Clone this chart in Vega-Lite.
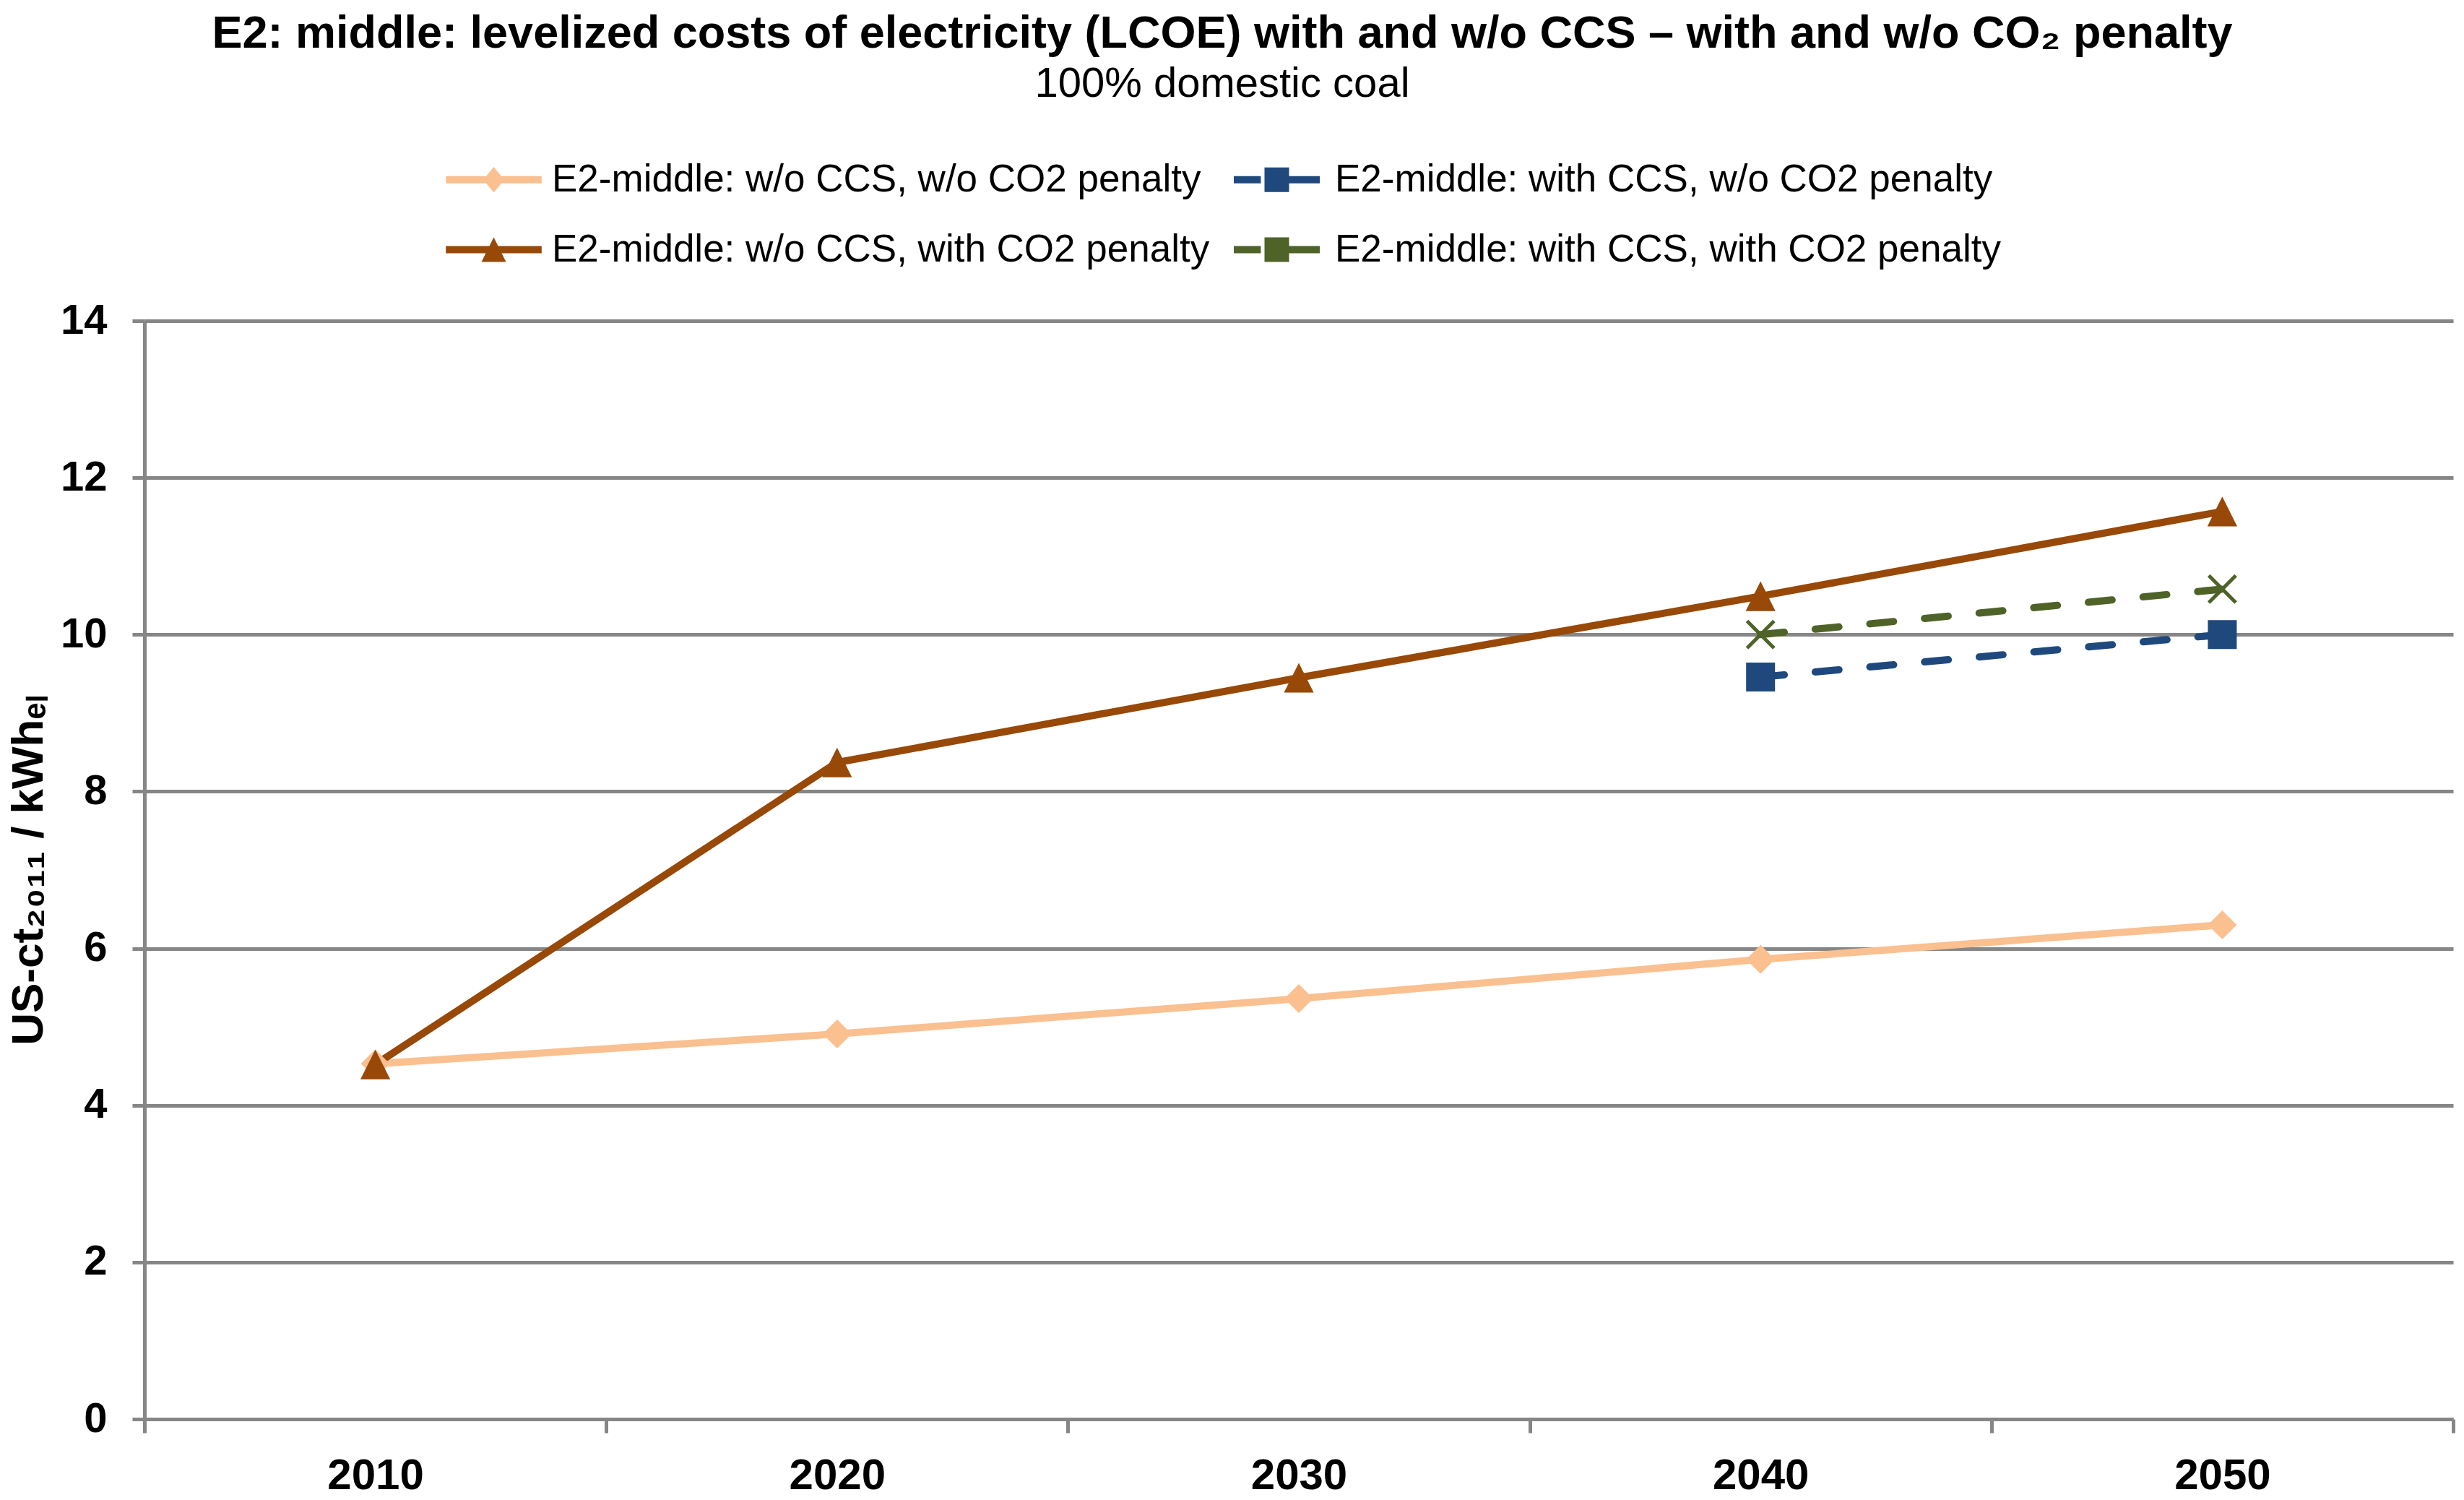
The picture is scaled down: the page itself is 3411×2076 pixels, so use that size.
{
  "$schema": "https://vega.github.io/schema/vega-lite/v6.json",
  "width": 3196,
  "height": 1520,
  "autosize": {"type": "none"},
  "padding": {"left": 200, "top": 444, "right": 15, "bottom": 112},
  "background": "white",
  "config": {"font": "Liberation Sans", "view": {"stroke": null}},
  "title": {
    "text": "E2: middle: levelized costs of electricity (LCOE) with and w/o CCS – with and w/o CO₂ penalty",
    "subtitle": "100% domestic coal",
    "anchor": "middle",
    "frame": "group",
    "dx": -106,
    "font": "Liberation Sans",
    "fontSize": 63,
    "fontWeight": "bold",
    "color": "black",
    "subtitleFont": "Liberation Sans",
    "subtitleFontSize": 58,
    "subtitleColor": "black",
    "subtitlePadding": 9,
    "offset": 76
  },
  "data": {
    "values": [
      {"year": "2010", "series": "E2-middle: w/o CCS, w/o CO2 penalty", "value": 4.53},
      {"year": "2020", "series": "E2-middle: w/o CCS, w/o CO2 penalty", "value": 4.91},
      {"year": "2030", "series": "E2-middle: w/o CCS, w/o CO2 penalty", "value": 5.36},
      {"year": "2040", "series": "E2-middle: w/o CCS, w/o CO2 penalty", "value": 5.86},
      {"year": "2050", "series": "E2-middle: w/o CCS, w/o CO2 penalty", "value": 6.30},
      {"year": "2040", "series": "E2-middle: with CCS, w/o CO2 penalty", "value": 9.46},
      {"year": "2050", "series": "E2-middle: with CCS, w/o CO2 penalty", "value": 10.0},
      {"year": "2010", "series": "E2-middle: w/o CCS, with CO2 penalty", "value": 4.52},
      {"year": "2020", "series": "E2-middle: w/o CCS, with CO2 penalty", "value": 8.37},
      {"year": "2030", "series": "E2-middle: w/o CCS, with CO2 penalty", "value": 9.45},
      {"year": "2040", "series": "E2-middle: w/o CCS, with CO2 penalty", "value": 10.49},
      {"year": "2050", "series": "E2-middle: w/o CCS, with CO2 penalty", "value": 11.57},
      {"year": "2040", "series": "E2-middle: with CCS, with CO2 penalty", "value": 10.0},
      {"year": "2050", "series": "E2-middle: with CCS, with CO2 penalty", "value": 10.58}
    ]
  },
  "encoding": {
    "x": {
      "field": "year",
      "type": "ordinal",
      "scale": {"type": "band", "domain": ["2010", "2020", "2030", "2040", "2050"], "paddingInner": 0, "paddingOuter": 0},
      "axis": {
        "title": null,
        "labelAngle": 0,
        "tickBand": "extent",
        "grid": false,
        "domain": true,
        "domainColor": "#868686",
        "domainWidth": 5,
        "ticks": true,
        "tickColor": "#868686",
        "tickWidth": 5,
        "tickSize": 19,
        "labelFont": "Liberation Sans",
        "labelFontSize": 60,
        "labelFontWeight": "bold",
        "labelColor": "black",
        "labelPadding": 30
      }
    },
    "y": {
      "field": "value",
      "type": "quantitative",
      "scale": {"domain": [0, 14], "nice": false, "zero": true},
      "axis": {
        "values": [0, 2, 4, 6, 8, 10, 12, 14],
        "grid": true,
        "gridColor": "#868686",
        "gridWidth": 5,
        "domain": true,
        "domainColor": "#868686",
        "domainWidth": 5,
        "ticks": true,
        "tickColor": "#868686",
        "tickWidth": 5,
        "tickSize": 17,
        "labelFont": "Liberation Sans",
        "labelFontSize": 58,
        "labelFontWeight": "bold",
        "labelColor": "black",
        "labelPadding": 35,
        "title": "US-ct₂₀₁₁ / kWhₑₗ",
        "titleFont": "Liberation Sans",
        "titleFontSize": 62,
        "titleFontWeight": "bold",
        "titleColor": "black",
        "titleAngle": -90,
        "titleAlign": "center",
        "titleBaseline": "alphabetic",
        "titleX": -142,
        "titleY": 760
      }
    }
  },
  "layer": [
    {
      "transform": [{"filter": {"field": "series", "oneOf": ["E2-middle: w/o CCS, w/o CO2 penalty", "E2-middle: w/o CCS, with CO2 penalty"]}}],
      "mark": {"type": "line", "strokeWidth": 10, "strokeJoin": "round"},
      "encoding": {
        "color": {"field": "series", "type": "nominal", "legend": null,
          "scale": {"domain": ["E2-middle: w/o CCS, w/o CO2 penalty", "E2-middle: w/o CCS, with CO2 penalty", "E2-middle: with CCS, w/o CO2 penalty", "E2-middle: with CCS, with CO2 penalty"],
                    "range": ["#FAC090", "#984807", "#1F497D", "#4F6228"]}}
      }
    },
    {
      "transform": [{"filter": {"field": "series", "oneOf": ["E2-middle: with CCS, w/o CO2 penalty", "E2-middle: with CCS, with CO2 penalty"]}}],
      "mark": {"type": "line", "strokeWidth": 10, "strokeDash": [33, 43], "strokeCap": "round"},
      "encoding": {
        "color": {"field": "series", "type": "nominal", "legend": null}
      }
    },
    {
      "transform": [{"filter": {"field": "series", "equal": "E2-middle: w/o CCS, w/o CO2 penalty"}}],
      "mark": {"type": "point", "shape": "diamond", "filled": true, "size": 1600, "opacity": 1},
      "encoding": {"color": {"field": "series", "type": "nominal", "legend": null}}
    },
    {
      "transform": [{"filter": {"field": "series", "equal": "E2-middle: w/o CCS, with CO2 penalty"}}],
      "mark": {"type": "point", "shape": "M0,-1L1,1L-1,1Z", "filled": true, "size": 1700, "opacity": 1},
      "encoding": {"color": {"field": "series", "type": "nominal", "legend": null}}
    },
    {
      "transform": [{"filter": {"field": "series", "equal": "E2-middle: with CCS, w/o CO2 penalty"}}],
      "mark": {"type": "point", "shape": "square", "filled": true, "size": 1600, "opacity": 1},
      "encoding": {"color": {"field": "series", "type": "nominal", "legend": null}}
    },
    {
      "transform": [{"filter": {"field": "series", "equal": "E2-middle: with CCS, with CO2 penalty"}}],
      "mark": {"type": "point", "shape": "M-1,-1L1,1M-1,1L1,-1", "filled": false, "size": 1400, "strokeWidth": 5, "opacity": 1},
      "encoding": {"color": {"field": "series", "type": "nominal", "legend": null}}
    },
    {
      "mark": {"type": "point", "filled": true, "opacity": 0, "strokeWidth": 0},
      "encoding": {
        "fill": {
          "field": "series", "type": "nominal",
          "scale": {"domain": ["E2-middle: w/o CCS, w/o CO2 penalty", "E2-middle: with CCS, w/o CO2 penalty", "E2-middle: w/o CCS, with CO2 penalty", "E2-middle: with CCS, with CO2 penalty"],
                    "range": ["#FAC090", "#1F497D", "#984807", "#4F6228"]},
          "legend": {"title": null, "orient": "none", "legendX": 457, "legendY": -222, "columns": 2, "direction": "horizontal",
                     "symbolSize": 1156, "symbolStrokeWidth": 0, "symbolOpacity": 1,
                     "labelFont": "Liberation Sans", "labelFontSize": 53, "labelColor": "black", "labelLimit": 2000,
                     "labelOffset": 54, "columnPadding": 33, "rowPadding": 43, "padding": 0}
        },
        "shape": {
          "field": "series", "type": "nominal",
          "scale": {"domain": ["E2-middle: w/o CCS, w/o CO2 penalty", "E2-middle: with CCS, w/o CO2 penalty", "E2-middle: w/o CCS, with CO2 penalty", "E2-middle: with CCS, with CO2 penalty"],
                    "range": [
                      "M-3.9,-0.3H3.9V0.3H-3.9Z M0,-1.05L0.85,0L0,1.05L-0.85,0Z",
                      "M-3.5,-0.3H-1.3V0.3H-3.5Z M-1,-1H1V1H-1Z M1,-0.3H3.5V0.3H1Z",
                      "M-3.9,-0.3H3.9V0.3H-3.9Z M0,-1L1,1H-1Z",
                      "M-3.5,-0.3H-1.3V0.3H-3.5Z M-1,-1H1V1H-1Z M1,-0.3H3.5V0.3H1Z"
                    ]},
          "legend": {"title": null, "orient": "none", "legendX": 457, "legendY": -222, "columns": 2, "direction": "horizontal",
                     "symbolSize": 1156, "symbolStrokeWidth": 0, "symbolOpacity": 1,
                     "labelFont": "Liberation Sans", "labelFontSize": 53, "labelColor": "black", "labelLimit": 2000,
                     "labelOffset": 54, "columnPadding": 33, "rowPadding": 43, "padding": 0}
        }
      }
    }
  ]
}
